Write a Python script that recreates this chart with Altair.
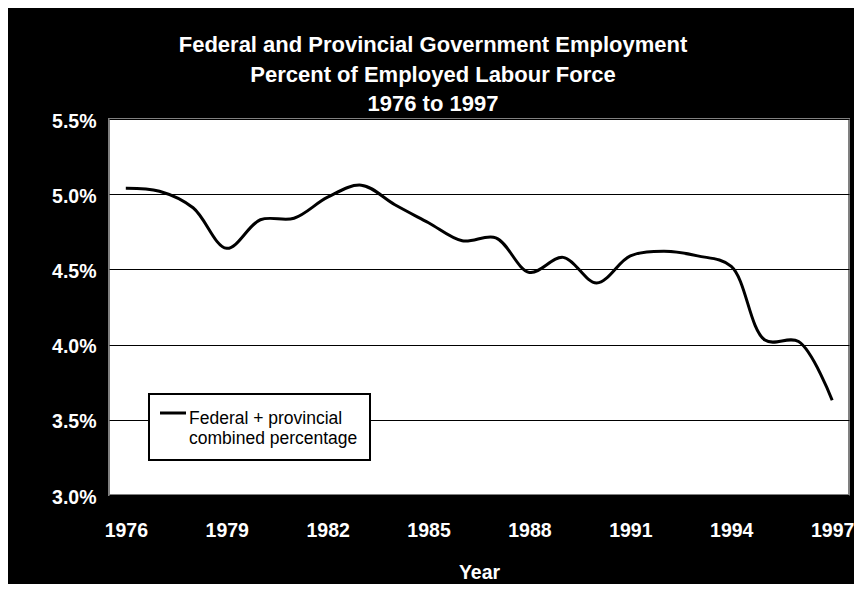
import altair as alt
import pandas as pd

YEARS = list(range(1976, 1998))
PERCENT = [5.04, 5.02, 4.91, 4.64, 4.83, 4.84, 4.98, 5.06, 4.93, 4.81, 4.69,
           4.71, 4.48, 4.58, 4.41, 4.59, 4.62, 4.59, 4.52, 4.03, 4.02, 3.63]
X_TICKS = [1976, 1979, 1982, 1985, 1988, 1991, 1994, 1997]
Y_TICKS = [3.0, 3.5, 4.0, 4.5, 5.0, 5.5]
TITLE_LINES = ["Federal and Provincial Government Employment",
               "Percent of Employed Labour Force",
               "1976 to 1997"]
SERIES_LABEL = ["Federal + provincial", "combined percentage"]

FONT = "Liberation Sans"

df = pd.DataFrame({"Year": YEARS, "Percent": PERCENT})
legend_df = pd.DataFrame({"label": [" ".join(SERIES_LABEL)]})

line = alt.Chart(df).mark_line(
    color="black", strokeWidth=3, interpolate="catmull-rom"
).encode(
    x=alt.X(
        "Year:Q",
        scale=alt.Scale(domain=[1975.5, 1997.5], nice=False, zero=False),
        axis=alt.Axis(
            values=X_TICKS, format="d", title="Year", grid=False, ticks=False,
            domain=False, labelColor="white", labelFont=FONT,
            labelFontWeight="bold", labelFontSize=19.5, labelPadding=26,
            titleColor="white", titleFont=FONT, titleFontWeight="bold",
            titleFontSize=19.5, titlePadding=24,
        ),
    ),
    y=alt.Y(
        "Percent:Q",
        scale=alt.Scale(domain=[3.0, 5.5], nice=False, zero=False),
        axis=alt.Axis(
            values=Y_TICKS, labelExpr="format(datum.value, '.1f') + '%'",
            title=None, grid=True, gridColor="black", gridWidth=1,
            gridOpacity=1, ticks=False, domain=False, labelColor="white",
            labelFont=FONT, labelFontWeight="bold", labelFontSize=19.5,
            labelPadding=13, labelOffset=2,
        ),
    ),
)

box = alt.Chart(legend_df).mark_rect(
    fill="white", stroke="black", strokeWidth=2
).encode(
    x=alt.value(40), x2=alt.value(261), y=alt.value(275), y2=alt.value(341)
)

symbol = alt.Chart(legend_df).mark_rule(
    color="black", strokeWidth=3
).encode(
    x=alt.value(51), x2=alt.value(77), y=alt.value(294)
)

label = alt.Chart(legend_df).mark_text(
    align="left", baseline="alphabetic", font=FONT, fontSize=17.5,
    lineHeight=20, color="black"
).encode(
    x=alt.value(80), y=alt.value(305), text=alt.value(SERIES_LABEL)
)

chart = alt.layer(line, box, symbol, label).properties(
    width=740,
    height=376,
    title=alt.TitleParams(
        TITLE_LINES, color="white", font=FONT, fontSize=22,
        fontWeight="bold", lineHeight=29.5, anchor="middle", dx=-46,
        dy=10, offset=5,
    ),
    autosize=alt.AutoSizeParams(type="none"),
    padding={"left": 101, "top": 111, "right": 5, "bottom": 89},
    background="black",
).configure_view(
    fill="white", stroke="#808080", strokeWidth=2
)

chart.save("out.html", embed_options={"renderer": "svg", "actions": False})
